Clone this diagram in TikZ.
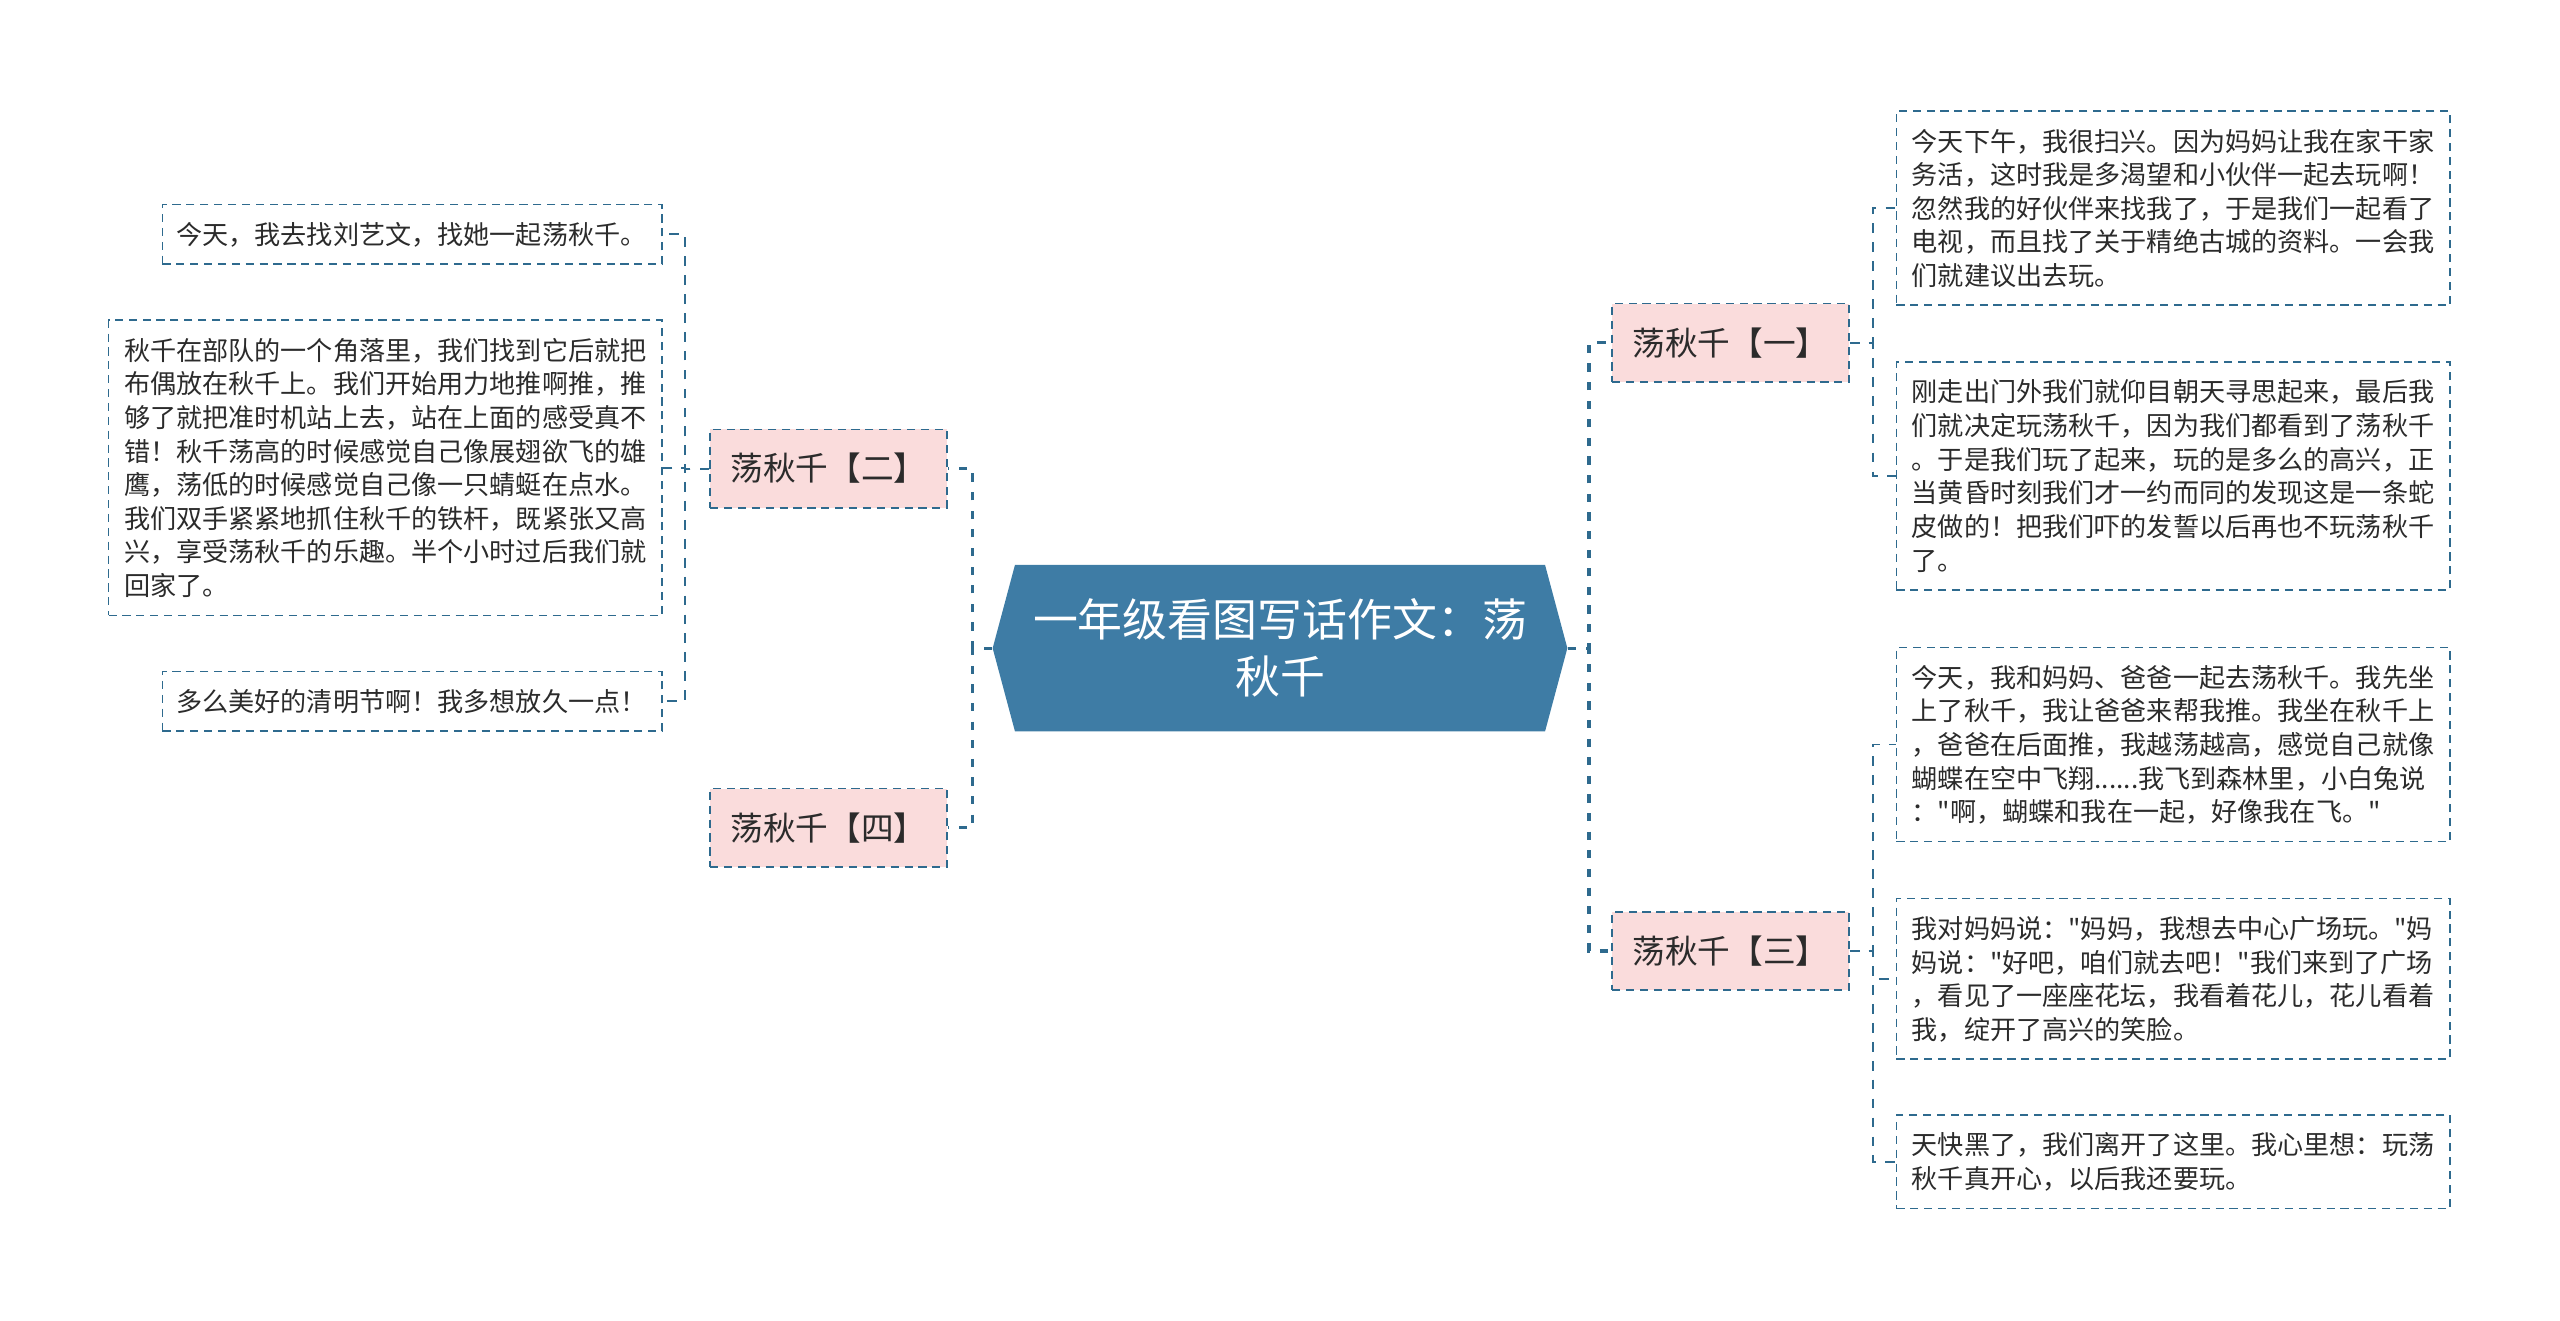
\documentclass[tikz,border=0pt]{standalone}
\usepackage{fontspec}
\usepackage{tikz}
\usetikzlibrary{positioning,shapes.symbols}
\newfontfamily\cjk{Noto Sans CJK SC}
\definecolor{linkblue}{HTML}{2E6A8E}
\definecolor{rootblue}{HTML}{3E7CA5}
\definecolor{branchpink}{HTML}{FADCDC}
\definecolor{inkgray}{HTML}{2B2B2B}
\newcommand\leafstrut{\rule[-4.1pt]{0pt}{20.6pt}}

\begin{document}
\begin{tikzpicture}[x=1pt, y=-1pt,
  root/.style = {signal, signal to=west and east, signal pointer angle=150,
                 fill=rootblue, text=white, align=center, inner sep=0pt,
                 minimum height=102pt, minimum width=352pt,
                 font=\cjk\fontsize{27.5}{35}\selectfont},
branch/.style = {draw=linkblue, line width=1pt, dash pattern=on 5pt off 3.5pt,
                 fill=branchpink, text=inkgray, inner sep=0pt,
                 minimum width=145pt, minimum height=48pt,
                 font=\cjk\fontsize{20}{24}\selectfont},
  leaf/.style = {draw=linkblue, line width=1pt, dash pattern=on 5pt off 3.5pt,
                 text=inkgray, align=left, text width=320pt,
                 inner xsep=9.5pt, inner ysep=8pt,
                 font=\cjk\fontsize{16}{20.6}\selectfont,
                 execute at begin node=\leafstrut, execute at end node=\leafstrut},
  link/.style = {draw=linkblue, line width=2pt, dash pattern=on 5pt off 6.4pt},
sublink/.style = {draw=linkblue, line width=1.2pt, dash pattern=on 6pt off 5.6pt},
 elbow/.style = {to path={-- ++(#1,0) |- (\tikztotarget)}}
                    ]
\useasboundingbox (0,0) rectangle (1568,809);

\node (0) [root] at (784,397) {一年级看图写话作文：荡\\秋千};

    \begin{scope}[nodes=branch]
\node (1) at (1060,210)   {荡秋千【一】};
\node (2) at (507.5,287)  {荡秋千【二】};
\node (3) at (1060,582.5) {荡秋千【三】};
\node (4) at (507.5,507)  {荡秋千【四】};
    \end{scope}

    \begin{scope}[nodes=leaf]
% left side
\node (21) [anchor=east, text width=289pt, inner xsep=8.5pt] at (406,143.5) {今天，我去找刘艺文，找她一起荡秋千。};
\node (22) [anchor=east] at (406,286.5) {秋千在部队的一个角落里，我们找到它后就把\\布偶放在秋千上。我们开始用力地推啊推，推\\够了就把准时机站上去，站在上面的感受真不\\错！秋千荡高的时候感觉自己像展翅欲飞的雄\\鹰，荡低的时候感觉自己像一只蜻蜓在点水。\\我们双手紧紧地抓住秋千的铁杆，既紧张又高\\兴，享受荡秋千的乐趣。半个小时过后我们就\\回家了。};
\node (23) [anchor=east, text width=289pt, inner xsep=8.5pt] at (406,429.5) {多么美好的清明节啊！我多想放久一点！};
% right side
\node (11) [anchor=west] at (1161,127.5) {今天下午，我很扫兴。因为妈妈让我在家干家\\务活，这时我是多渴望和小伙伴一起去玩啊！\\忽然我的好伙伴来找我了，于是我们一起看了\\电视，而且找了关于精绝古城的资料。一会我\\们就建议出去玩。};
\node (12) [anchor=west] at (1161,291.5) {刚走出门外我们就仰目朝天寻思起来，最后我\\们就决定玩荡秋千，因为我们都看到了荡秋千\\。于是我们玩了起来，玩的是多么的高兴，正\\当黄昏时刻我们才一约而同的发现这是一条蛇\\皮做的！把我们吓的发誓以后再也不玩荡秋千\\了。};
\node (31) [anchor=west] at (1161,456) {今天，我和妈妈、爸爸一起去荡秋千。我先坐\\上了秋千，我让爸爸来帮我推。我坐在秋千上\\，爸爸在后面推，我越荡越高，感觉自己就像\\蝴蝶在空中飞翔......我飞到森林里，小白兔说\\："啊，蝴蝶和我在一起，好像我在飞。"};
\node (32) [anchor=west] at (1161,599.5) {我对妈妈说："妈妈，我想去中心广场玩。"妈\\妈说："好吧，咱们就去吧！"我们来到了广场\\，看见了一座座花坛，我看着花儿，花儿看着\\我，绽开了高兴的笑脸。};
\node (33) [anchor=west] at (1161,711.5) {天快黑了，我们离开了这里。我心里想：玩荡\\秋千真开心，以后我还要玩。};
    \end{scope}

\draw[link]   (0.west) edge[elbow=-12] (2.east)
              (0.west) edge[elbow=-12] (4.east)
              (0.east) edge[elbow=13]  (1.west)
              (0.east) edge[elbow=13]  (3.west);

\draw[sublink] (2.west) edge[elbow=-15] (21.east)
               (2.west) edge[elbow=-15] (22.east)
               (2.west) edge[elbow=-15] (23.east)

               (1.east) edge[elbow=14] (11.west)
               (1.east) edge[elbow=14] (12.west)

               (3.east) edge[elbow=14] (31.west)
               (3.east) edge[elbow=14] (32.west)
               (3.east) edge[elbow=14] (33.west);
\end{tikzpicture}
\end{document}
